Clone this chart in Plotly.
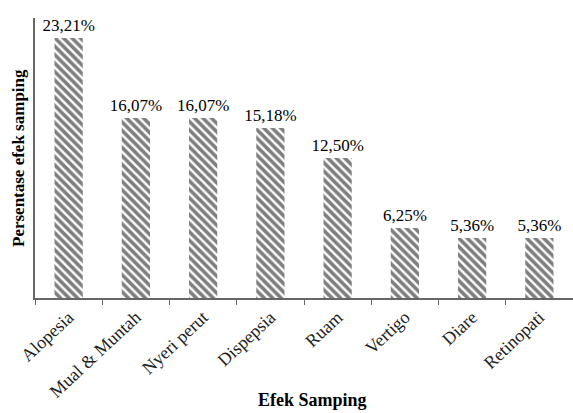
import plotly.graph_objects as go

categories = ["Alopesia", "Mual & Muntah", "Nyeri perut", "Dispepsia", "Ruam", "Vertigo", "Diare", "Retinopati"]
values = [23.21, 16.07, 16.07, 15.18, 12.50, 6.25, 5.36, 5.36]
labels = ["23,21%", "16,07%", "16,07%", "15,18%", "12,50%", "6,25%", "5,36%", "5,36%"]

serif = "Liberation Serif, Times New Roman, serif"

fig = go.Figure(go.Bar(
    x=categories, y=values, text=labels, textposition="outside",
    textfont=dict(family=serif, size=17, color="black"),
    constraintext="none",
    cliponaxis=False,
    width=0.42,
    marker=dict(color="white", line=dict(width=0),
                pattern=dict(shape="\\", fgcolor="black", bgcolor="white", size=6, solidity=0.6)),
))

plot_h = 413 - 18 - 115
plot_w = 573 - 35

fig.update_layout(
    width=573, height=413,
    margin=dict(l=35, r=0, t=18, b=115),
    plot_bgcolor="white", paper_bgcolor="white",
    showlegend=False,
    font=dict(family=serif, color="black"),
    annotations=[
        dict(text="<b>Efek Samping</b>", x=(312 - 35) / plot_w, xref="paper",
             y=(298 - 400) / plot_h, yref="paper",
             yanchor="middle", xanchor="center", showarrow=False,
             font=dict(family=serif, size=18, color="black")),
        dict(text="<b>Persentase efek samping</b>", x=(18 - 35) / plot_w, xref="paper",
             y=0.5, yref="paper",
             xanchor="center", yanchor="middle", showarrow=False, textangle=-90,
             font=dict(family=serif, size=17, color="black")),
    ],
)

fig.update_xaxes(
    range=[-0.5, 7.5], showline=True, linecolor="#666666", linewidth=1.5,
    ticks="outside", tickson="boundaries", ticklen=5, tickcolor="#666666",
    tickangle=-43, tickfont=dict(family=serif, size=18, color="#222222"),
    automargin=False,
)
fig.update_yaxes(
    range=[0, 25], showline=True, linecolor="#666666", linewidth=1.5,
    showticklabels=False, showgrid=False, zeroline=False, ticks="",
    automargin=False,
)

fig.write_html("out.html", config={"displayModeBar": False},
               post_script="document.body.style.margin='0';document.body.style.overflow='hidden';")
